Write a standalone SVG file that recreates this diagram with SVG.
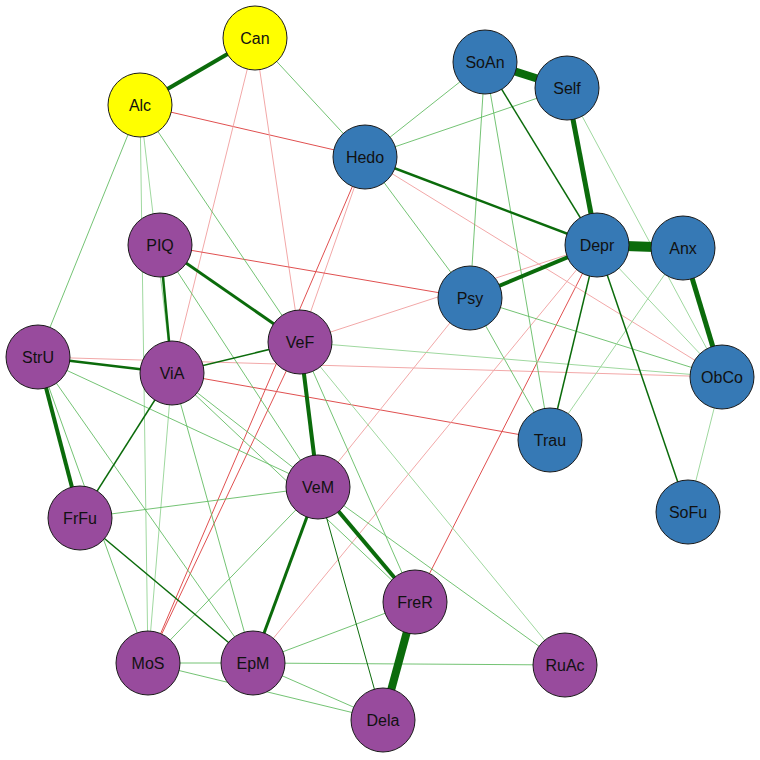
<svg xmlns="http://www.w3.org/2000/svg" width="760" height="760" viewBox="0 0 760 760">
<style>
.g{stroke:#0b6b0b;fill:none}
.l{stroke:#5cb85c;stroke-width:1;fill:none;opacity:.85}
.vl{stroke:#9fd89f;stroke-width:1;fill:none}
.r{stroke:#e05050;stroke-width:1;fill:none}
.p{stroke:#f2a8a8;stroke-width:1;fill:none}
circle{stroke:#1a1a1a;stroke-width:1}
.y circle{fill:#ffff00}
.b circle{fill:#3679b5}
.m circle{fill:#984b9d}
text{font-family:Arial,"Liberation Sans",sans-serif;font-size:16px;text-anchor:middle;dominant-baseline:central;fill:#111}
</style>
<rect width="760" height="760" fill="#fff"/>
<g id="connectors">
<line class="r" x1="140" y1="105" x2="365" y2="157"/>
<line class="p" x1="255" y1="38" x2="300" y2="342"/>
<line class="p" x1="255" y1="38" x2="172" y2="373"/>
<line class="p" x1="365" y1="157" x2="300" y2="342"/>
<line class="r" x1="365" y1="157" x2="148" y2="663"/>
<line class="r" x1="160" y1="245" x2="470" y2="298"/>
<line class="p" x1="38" y1="357" x2="722" y2="377"/>
<line class="r" x1="172" y1="373" x2="550" y2="440"/>
<line class="p" x1="300" y1="342" x2="597" y2="245"/>
<line class="r" x1="597" y1="245" x2="415" y2="602"/>
<line class="p" x1="470" y1="298" x2="318" y2="487"/>
<line class="r" x1="300" y1="342" x2="148" y2="663"/>
<line class="p" x1="365" y1="157" x2="722" y2="377"/>
<line class="p" x1="597" y1="245" x2="253" y2="663"/>
<line class="l" x1="255" y1="38" x2="365" y2="157"/>
<line class="l" x1="140" y1="105" x2="38" y2="357"/>
<line class="l" x1="140" y1="105" x2="300" y2="342"/>
<line class="vl" x1="140" y1="105" x2="172" y2="373"/>
<line class="vl" x1="140" y1="105" x2="148" y2="663"/>
<line class="l" x1="485" y1="62" x2="365" y2="157"/>
<line class="l" x1="485" y1="62" x2="470" y2="298"/>
<line class="l" x1="567" y1="88" x2="365" y2="157"/>
<line class="l" x1="485" y1="62" x2="550" y2="440"/>
<line class="vl" x1="567" y1="88" x2="722" y2="377"/>
<line class="l" x1="365" y1="157" x2="470" y2="298"/>
<line class="l" x1="470" y1="298" x2="550" y2="440"/>
<line class="l" x1="470" y1="298" x2="722" y2="377"/>
<line class="vl" x1="683" y1="248" x2="550" y2="440"/>
<line class="vl" x1="722" y1="377" x2="688" y2="512"/>
<line class="vl" x1="597" y1="245" x2="722" y2="377"/>
<line class="vl" x1="300" y1="342" x2="722" y2="377"/>
<line class="l" x1="300" y1="342" x2="415" y2="602"/>
<line class="l" x1="172" y1="373" x2="318" y2="487"/>
<line class="l" x1="172" y1="373" x2="253" y2="663"/>
<line class="l" x1="172" y1="373" x2="415" y2="602"/>
<line class="vl" x1="172" y1="373" x2="148" y2="663"/>
<line class="l" x1="38" y1="357" x2="318" y2="487"/>
<line class="l" x1="38" y1="357" x2="253" y2="663"/>
<line class="l" x1="38" y1="357" x2="148" y2="663"/>
<line class="l" x1="80" y1="518" x2="318" y2="487"/>
<line class="l" x1="160" y1="245" x2="318" y2="487"/>
<line class="l" x1="148" y1="663" x2="253" y2="663"/>
<line class="l" x1="148" y1="663" x2="383" y2="720"/>
<line class="l" x1="253" y1="663" x2="415" y2="602"/>
<line class="l" x1="253" y1="663" x2="383" y2="720"/>
<line class="l" x1="253" y1="663" x2="565" y2="665"/>
<line class="l" x1="318" y1="487" x2="565" y2="665"/>
<line class="vl" x1="300" y1="342" x2="565" y2="665"/>
<line class="l" x1="318" y1="487" x2="148" y2="663"/>
<line class="g" stroke-width="4" x1="255" y1="38" x2="140" y2="105"/>
<line class="g" stroke-width="8" x1="485" y1="62" x2="567" y2="88"/>
<line class="g" stroke-width="5" x1="567" y1="88" x2="597" y2="245"/>
<line class="g" stroke-width="10" x1="597" y1="245" x2="683" y2="248"/>
<line class="g" stroke-width="5" x1="683" y1="248" x2="722" y2="377"/>
<line class="g" stroke-width="4" x1="597" y1="245" x2="470" y2="298"/>
<line class="g" stroke-width="2.5" x1="365" y1="157" x2="597" y2="245"/>
<line class="g" stroke-width="3" x1="160" y1="245" x2="300" y2="342"/>
<line class="g" stroke-width="4" x1="300" y1="342" x2="318" y2="487"/>
<line class="g" stroke-width="4" x1="318" y1="487" x2="415" y2="602"/>
<line class="g" stroke-width="8" x1="415" y1="602" x2="383" y2="720"/>
<line class="g" stroke-width="4" x1="38" y1="357" x2="80" y2="518"/>
<line class="g" stroke-width="3" x1="318" y1="487" x2="253" y2="663"/>
<line class="g" stroke-width="2.5" x1="160" y1="245" x2="172" y2="373"/>
<line class="g" stroke-width="2.5" x1="38" y1="357" x2="172" y2="373"/>
<line class="g" stroke-width="1.5" x1="172" y1="373" x2="300" y2="342"/>
<line class="g" stroke-width="1.5" x1="172" y1="373" x2="80" y2="518"/>
<line class="g" stroke-width="1.5" x1="80" y1="518" x2="253" y2="663"/>
<line class="g" stroke-width="1.5" x1="597" y1="245" x2="550" y2="440"/>
<line class="g" stroke-width="1.5" x1="597" y1="245" x2="688" y2="512"/>
<line class="g" stroke-width="1.5" x1="485" y1="62" x2="597" y2="245"/>
<line class="g" stroke-width="1" x1="318" y1="487" x2="383" y2="720"/>
</g>
<g id="Can" class="y"><circle cx="255" cy="38" r="32"/><text x="255" y="38">Can</text></g>
<g id="Alc" class="y"><circle cx="140" cy="105" r="32"/><text x="140" y="105">Alc</text></g>
<g id="SoAn" class="b"><circle cx="485" cy="62" r="32"/><text x="485" y="62">SoAn</text></g>
<g id="Self" class="b"><circle cx="567" cy="88" r="32"/><text x="567" y="88">Self</text></g>
<g id="Hedo" class="b"><circle cx="365" cy="157" r="32"/><text x="365" y="157">Hedo</text></g>
<g id="Depr" class="b"><circle cx="597" cy="245" r="32"/><text x="597" y="245">Depr</text></g>
<g id="Anx" class="b"><circle cx="683" cy="248" r="32"/><text x="683" y="248">Anx</text></g>
<g id="Psy" class="b"><circle cx="470" cy="298" r="32"/><text x="470" y="298">Psy</text></g>
<g id="ObCo" class="b"><circle cx="722" cy="377" r="32"/><text x="722" y="377">ObCo</text></g>
<g id="Trau" class="b"><circle cx="550" cy="440" r="32"/><text x="550" y="440">Trau</text></g>
<g id="SoFu" class="b"><circle cx="688" cy="512" r="32"/><text x="688" y="512">SoFu</text></g>
<g id="PIQ" class="m"><circle cx="160" cy="245" r="32"/><text x="160" y="245">PIQ</text></g>
<g id="VeF" class="m"><circle cx="300" cy="342" r="32"/><text x="300" y="342">VeF</text></g>
<g id="StrU" class="m"><circle cx="38" cy="357" r="32"/><text x="38" y="357">StrU</text></g>
<g id="ViA" class="m"><circle cx="172" cy="373" r="32"/><text x="172" y="373">ViA</text></g>
<g id="VeM" class="m"><circle cx="318" cy="487" r="32"/><text x="318" y="487">VeM</text></g>
<g id="FrFu" class="m"><circle cx="80" cy="518" r="32"/><text x="80" y="518">FrFu</text></g>
<g id="FreR" class="m"><circle cx="415" cy="602" r="32"/><text x="415" y="602">FreR</text></g>
<g id="MoS" class="m"><circle cx="148" cy="663" r="32"/><text x="148" y="663">MoS</text></g>
<g id="EpM" class="m"><circle cx="253" cy="663" r="32"/><text x="253" y="663">EpM</text></g>
<g id="RuAc" class="m"><circle cx="565" cy="665" r="32"/><text x="565" y="665">RuAc</text></g>
<g id="Dela" class="m"><circle cx="383" cy="720" r="32"/><text x="383" y="720">Dela</text></g>
</svg>
